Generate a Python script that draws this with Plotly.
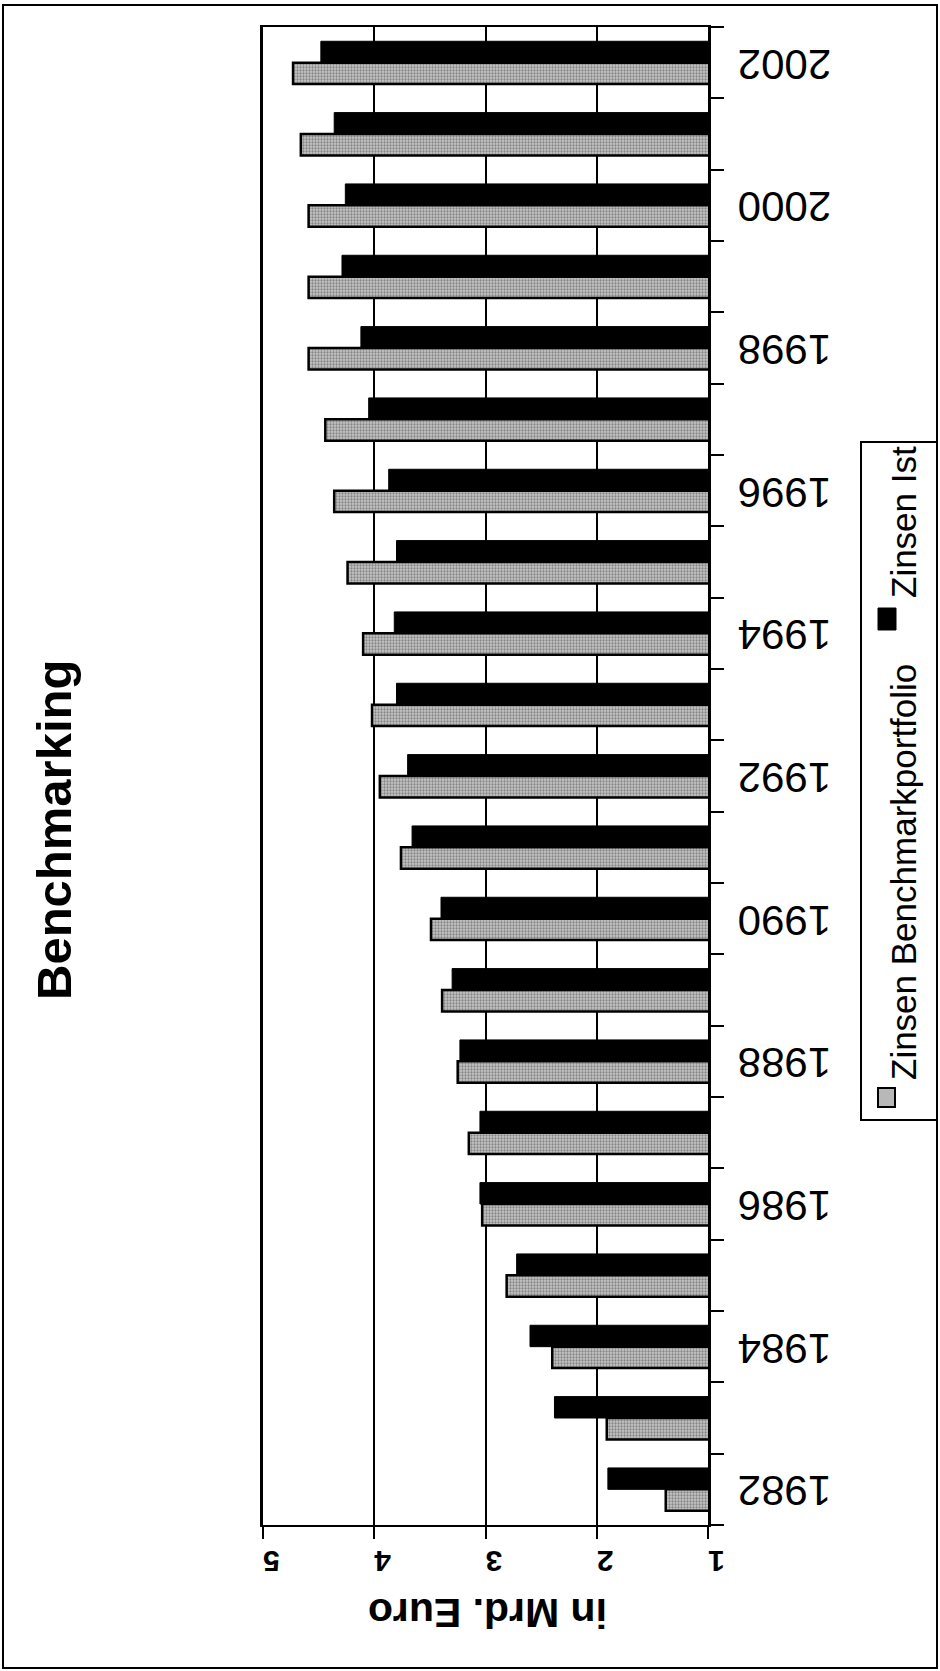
import plotly.graph_objects as go

# Interest cost per year, in billions of euro
years = list(range(1982, 2003))
zinsen_benchmark = [1.38, 1.91, 2.40, 2.81, 3.03, 3.15, 3.25, 3.39, 3.49, 3.76, 3.95,
                    4.02, 4.10, 4.24, 4.36, 4.44, 4.59, 4.59, 4.59, 4.66, 4.73]
zinsen_ist = [1.90, 2.38, 2.60, 2.72, 3.05, 3.05, 3.23, 3.30, 3.40, 3.66, 3.70,
              3.80, 3.82, 3.80, 3.87, 4.05, 4.12, 4.29, 4.26, 4.36, 4.48]
value_ticks = [1, 2, 3, 4, 5]
year_labels = [str(y) for y in range(1982, 2003, 2)]
boundaries = [y - 0.5 for y in range(1982, 2004)]

W, H = 940, 1671
L, R, T, B = 263, 708, 27, 1525  # plot area in pixels


def px(x):
    return (x - L) / (R - L)


def py(y):
    return (B - y) / (B - T)


FONT = "Arial, Liberation Sans, sans-serif"

fig = go.Figure()
fig.add_trace(go.Bar(
    name="Zinsen Benchmarkportfolio",
    x=zinsen_benchmark, y=years, orientation="h",
    marker=dict(color="#bcbcbc",
                line=dict(color="black", width=2.5),
                pattern=dict(shape=".", fgcolor="#444444", bgcolor="#c6c6c6",
                             size=3, solidity=0.45)),
))
fig.add_trace(go.Bar(
    name="Zinsen Ist",
    x=zinsen_ist, y=years, orientation="h",
    marker=dict(color="black", line=dict(color="black", width=1)),
))

fig.update_layout(
    width=W, height=H,
    margin=dict(l=L, r=W - R, t=T, b=H - B),
    paper_bgcolor="white", plot_bgcolor="white",
    barmode="group", bargap=0.4, bargroupgap=0,
    showlegend=False,
    font=dict(family=FONT, color="black"),
)

fig.update_xaxes(
    range=[5, 1], tickvals=value_ticks, ticktext=[str(v) for v in value_ticks],
    tickangle=180, tickfont=dict(size=30, family=FONT, weight="bold"),
    ticks="outside", ticklen=12, tickwidth=2, tickcolor="black",
    showgrid=True, gridcolor="black", gridwidth=1.5,
    showline=True, linecolor="black", linewidth=2, mirror=True,
    zeroline=False, ticklabelstandoff=6,
)
# upside-down year labels sit a little below each label's category centre
# once rotated, so the label anchors are nudged to compensate
label_shift = 0.2
fig.update_yaxes(
    range=[1981.5, 2002.5], side="right",
    tickvals=[int(t) - label_shift for t in year_labels], ticktext=year_labels,
    tickangle=180, tickfont=dict(size=42, family=FONT),
    ticks="", showgrid=False, zeroline=False,
    showline=True, linecolor="black", linewidth=2.5, mirror=True,
    minor=dict(tickvals=boundaries, ticks="outside", ticklen=13,
               tickwidth=2, tickcolor="black", showgrid=False),
    ticklabelstandoff=112,
)

common = dict(xref="paper", yref="paper", xanchor="center", yanchor="middle", showarrow=False)
annotations = [
    dict(text="<b>Benchmarking</b>", x=px(54), y=py(830), textangle=-90,
         font=dict(size=49, family=FONT), **common),
    dict(text="<b>in Mrd. Euro</b>", x=px(488), y=py(1613), textangle=180,
         font=dict(size=41, family=FONT), **common),
    dict(text="Zinsen Benchmarkportfolio", x=px(903), y=py(872), textangle=-90,
         font=dict(size=35, family=FONT), **common),
    dict(text="Zinsen Ist", x=px(903), y=py(522), textangle=-90,
         font=dict(size=35, family=FONT), **common),
]
fig.update_layout(annotations=annotations)

shapes = [
    # outer frame
    dict(type="rect", xref="paper", yref="paper", x0=px(3), x1=px(937), y0=py(1668), y1=py(5),
         line=dict(color="black", width=2)),
    # legend box
    dict(type="rect", xref="paper", yref="paper", x0=px(861), x1=px(937), y0=py(1120), y1=py(442),
         line=dict(color="black", width=2)),
    # legend swatches
    dict(type="rect", xref="paper", yref="paper", x0=px(878), x1=px(895), y0=py(1107), y1=py(1088),
         fillcolor="#b8b8b8", line=dict(color="black", width=2)),
    dict(type="rect", xref="paper", yref="paper", x0=px(878), x1=px(896), y0=py(630), y1=py(608),
         fillcolor="black", line=dict(color="black", width=1)),
]
fig.update_layout(shapes=shapes)

fig.write_html("out.html")
